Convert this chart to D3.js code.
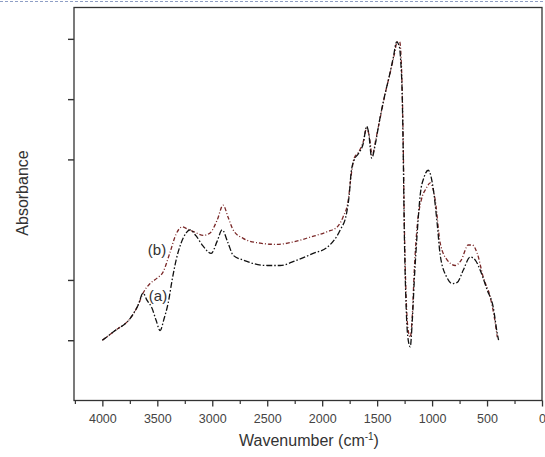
<!DOCTYPE html>
<html>
<head>
<meta charset="utf-8">
<script src="https://cdn.jsdelivr.net/npm/d3@7"></script>
<style>
    body { margin: 0; background: #fff; }
    svg { display: block; }
    .tick-label { font-family: "Liberation Sans", Arial, sans-serif; font-size: 12.5px; fill: #444; }
    .axis-title { font-family: "Liberation Sans", Arial, sans-serif; font-size: 16px; fill: #333; }
    .curve-label { font-family: "Liberation Sans", Arial, sans-serif; font-size: 15px; fill: #333; }
</style>
</head>
<body>
<svg id="chart" width="545" height="457"></svg>
<script>
// wavenumber (cm-1) / absorbance (a.u.)
var sharedStart = [
    [4000, 1.00], [3884, 1.16], [3748, 1.36], [3675, 1.58], [3630, 1.78]
];

var seriesB = [
    [3566, 1.94], [3502, 2.03], [3448, 2.13], [3384, 2.46], [3329, 2.76],
    [3274, 2.88], [3220, 2.84], [3156, 2.79], [3083, 2.74], [3020, 2.78],
    [2956, 2.99], [2901, 3.24], [2856, 3.04], [2810, 2.83], [2719, 2.69],
    [2564, 2.61], [2410, 2.59], [2264, 2.63], [2109, 2.71], [1955, 2.80],
    [1863, 2.88], [1809, 3.05], [1763, 3.32], [1736, 3.74], [1709, 4.02],
    [1672, 4.11], [1627, 4.29], [1595, 4.52], [1572, 4.39], [1545, 4.07],
    [1509, 4.36], [1472, 4.69], [1427, 5.09], [1381, 5.44], [1345, 5.73],
    [1317, 5.95], [1295, 5.95], [1281, 5.65], [1272, 5.15], [1263, 4.32],
    [1253, 2.99], [1235, 1.66], [1217, 1.16], [1199, 1.05], [1180, 1.41],
    [1162, 2.16], [1135, 2.91], [1099, 3.32], [1053, 3.52], [1017, 3.61],
    [971, 3.32], [926, 2.61], [862, 2.33], [789, 2.24], [735, 2.33],
    [671, 2.58], [634, 2.58], [589, 2.44], [534, 2.04], [470, 1.71],
    [425, 1.28], [407, 1.05]
];

var seriesA = [
    [3593, 1.66], [3548, 1.53], [3511, 1.33], [3475, 1.16], [3438, 1.36],
    [3402, 1.61], [3366, 1.99], [3329, 2.33], [3284, 2.61], [3238, 2.78],
    [3202, 2.83], [3147, 2.73], [3083, 2.56], [3010, 2.44], [2956, 2.64],
    [2910, 2.83], [2856, 2.61], [2810, 2.41], [2719, 2.33], [2501, 2.24],
    [2383, 2.24], [2228, 2.33], [2082, 2.44], [1955, 2.54], [1836, 2.83],
    [1781, 3.08], [1754, 3.41], [1736, 3.79], [1709, 3.99], [1672, 4.09],
    [1627, 4.26], [1595, 4.55], [1577, 4.44], [1549, 4.02], [1518, 4.24],
    [1481, 4.62], [1436, 5.02], [1391, 5.37], [1354, 5.68], [1322, 5.95],
    [1299, 5.88], [1285, 5.62], [1272, 5.07], [1263, 4.16], [1253, 2.83],
    [1235, 1.50], [1217, 1.00], [1199, 0.89], [1180, 1.33], [1162, 1.99],
    [1135, 2.79], [1108, 3.41], [1072, 3.71], [1035, 3.82], [990, 3.52],
    [954, 2.94], [926, 2.41], [865, 2.04], [817, 1.94], [771, 1.96],
    [717, 2.16], [653, 2.38], [607, 2.33], [562, 2.16], [498, 1.83],
    [444, 1.55], [407, 1.11], [395, 1.00]
];

var xTickValues = [4000, 3500, 3000, 2500, 2000, 1500, 1000, 500, 0];
var xMinorValues = [4250, 3750, 3250, 2750, 2250, 1750, 1250, 750, 250];
var yTickValues = [1, 2, 4, 5, 6];

var svg = d3.select('#chart');

var plot = { left: 74, right: 542, top: 7.5, bottom: 400.5 };

var x = d3.scaleLinear().domain([4258, 0]).range([plot.left, plot.right]);
var y = d3.scaleLinear().domain([0, 6.52]).range([plot.bottom, plot.top]);

// blue dotted border along the top of the picture
svg.append('line')
    .attr('x1', 0).attr('x2', 545)
    .attr('y1', 1.5).attr('y2', 1.5)
    .attr('stroke', '#8f9fc6')
    .attr('stroke-width', 1.2)
    .attr('stroke-dasharray', '3,2');

// frame
svg.append('rect')
    .attr('x', plot.left)
    .attr('y', plot.top)
    .attr('width', plot.right - plot.left)
    .attr('height', plot.bottom - plot.top)
    .attr('fill', 'none')
    .attr('stroke', '#333')
    .attr('stroke-width', 1.3);

var xAxis = svg.append('g')
    .attr('transform', 'translate(0,' + plot.bottom + ')')
    .call(d3.axisBottom(x).tickValues(xTickValues).tickSize(6).tickSizeOuter(0).tickFormat(d3.format('d')));
xAxis.select('.domain').remove();
xAxis.selectAll('line').attr('stroke', '#333').attr('stroke-width', 1.3);
xAxis.selectAll('text').attr('class', 'tick-label').attr('dy', '0.95em').attr('y', 11);

var xMinor = svg.append('g')
    .attr('transform', 'translate(0,' + plot.bottom + ')')
    .call(d3.axisBottom(x).tickValues(xMinorValues).tickSize(3.5).tickSizeOuter(0).tickFormat(''));
xMinor.select('.domain').remove();
xMinor.selectAll('line').attr('stroke', '#333').attr('stroke-width', 1.2);

var yAxis = svg.append('g')
    .attr('transform', 'translate(' + plot.left + ',0)')
    .call(d3.axisLeft(y).tickValues(yTickValues).tickSize(6).tickSizeOuter(0).tickFormat(''));
yAxis.select('.domain').remove();
yAxis.selectAll('line').attr('stroke', '#333').attr('stroke-width', 1.4);

var line = d3.line()
    .x(function (d) { return x(d[0]); })
    .y(function (d) { return y(d[1]); })
    .curve(d3.curveMonotoneX);

svg.append('path')
    .datum(sharedStart.concat(seriesB))
    .attr('d', line)
    .attr('fill', 'none')
    .attr('stroke', '#7a2828')
    .attr('stroke-width', 1.3)
    .attr('stroke-dasharray', '4,2,1,2');

svg.append('path')
    .datum(sharedStart.concat(seriesA))
    .attr('d', line)
    .attr('fill', 'none')
    .attr('stroke', '#111')
    .attr('stroke-width', 1.3)
    .attr('stroke-dasharray', '6,2,1.5,2');

svg.append('text')
    .attr('class', 'curve-label')
    .attr('x', 157).attr('y', 255)
    .attr('text-anchor', 'middle')
    .text('(b)');

svg.append('text')
    .attr('class', 'curve-label')
    .attr('x', 158).attr('y', 301)
    .attr('text-anchor', 'middle')
    .text('(a)');

svg.append('text')
    .attr('class', 'axis-title')
    .attr('transform', 'translate(28,193) rotate(-90)')
    .attr('text-anchor', 'middle')
    .text('Absorbance');

var title = svg.append('text')
    .attr('class', 'axis-title')
    .attr('x', 309).attr('y', 446)
    .attr('text-anchor', 'middle');
title.append('tspan').text('Wavenumber (cm');
title.append('tspan').attr('dy', -6).attr('font-size', '10px').text('-1');
title.append('tspan').attr('dy', 6).text(')');
</script>
</body>
</html>
